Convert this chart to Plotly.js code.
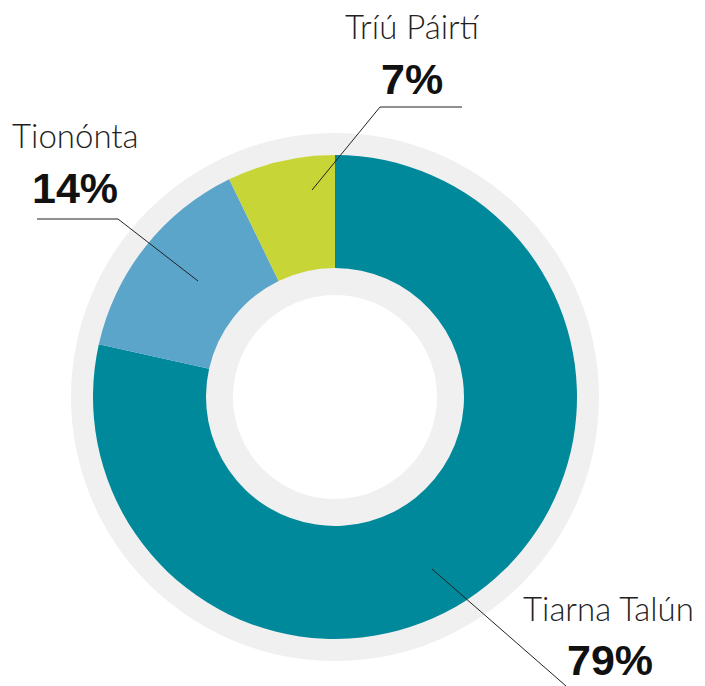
<!DOCTYPE html>
<html>
<head>
<meta charset="utf-8">
<script src="https://cdn.plot.ly/plotly-3.0.1.min.js"></script>
<style>html,body{margin:0;padding:0;background:#fff;}#chart{width:705px;height:686px;}</style>
</head>
<body>
<div id="chart"></div>
<script>
const categories = ["Tiarna Talún", "Tionónta", "Tríú Páirtí"];
const shares = [78.5, 14.3, 7.2];
const shareLabels = ["79%", "14%", "7%"];
const colors = ["#00889B", "#5BA5CA", "#C8D536"];

const W = 705, H = 686;
const px = x => x / W;
const py = y => 1 - y / H;

const ring = {
  type: "pie", values: [1], labels: ["bg"], sort: false,
  marker: {colors: ["#F0F0F0"]}, textinfo: "none", hoverinfo: "skip",
  hole: 102/264, showlegend: false,
  domain: {x: [px(71), px(599)], y: [py(661), py(133)]}
};
const donut = {
  type: "pie", values: shares, labels: categories, sort: false,
  direction: "clockwise", rotation: 0,
  marker: {colors: colors}, textinfo: "none", hoverinfo: "label+percent",
  hole: 129/242, showlegend: false,
  domain: {x: [px(93), px(577)], y: [py(639), py(155)]}
};

const lightFont = {family: "Lato, 'Source Sans Pro', sans-serif", size: 33, color: "#222", weight: 300};
const boldFont = {family: "'Liberation Sans', Arial, sans-serif", size: 43, color: "#111", weight: 700};

const labelPos = [
  {name: [608, 608], pct: [610, 660]},
  {name: [75, 135], pct: [75, 188]},
  {name: [413, 26], pct: [412, 79]}
];
const annotations = [];
categories.forEach((c, i) => {
  annotations.push({text: c, x: px(labelPos[i].name[0]), y: py(labelPos[i].name[1]), xref: "paper", yref: "paper",
    xanchor: "center", yanchor: "middle", showarrow: false, font: lightFont});
  annotations.push({text: "<b>" + shareLabels[i] + "</b>", x: px(labelPos[i].pct[0]), y: py(labelPos[i].pct[1]), xref: "paper", yref: "paper",
    xanchor: "center", yanchor: "middle", showarrow: false, font: boldFont});
});

const lineStyle = {color: "#222", width: 1};
const shapes = [
  {type: "path", xref: "paper", yref: "paper", line: lineStyle,
   path: `M ${px(462)} ${py(107)} L ${px(380)} ${py(107)} L ${px(312)} ${py(190)}`},
  {type: "path", xref: "paper", yref: "paper", line: lineStyle,
   path: `M ${px(37)} ${py(219)} L ${px(118)} ${py(219)} L ${px(198)} ${py(281)}`},
  {type: "line", xref: "paper", yref: "paper", line: lineStyle,
   x0: px(432), y0: py(569), x1: px(566), y1: py(686)}
];

Plotly.newPlot("chart", [ring, donut], {
  width: W, height: H, margin: {l: 0, r: 0, t: 0, b: 0},
  paper_bgcolor: "#fff", showlegend: false,
  annotations: annotations, shapes: shapes
}, {displayModeBar: false, staticPlot: true});
</script>
</body>
</html>
